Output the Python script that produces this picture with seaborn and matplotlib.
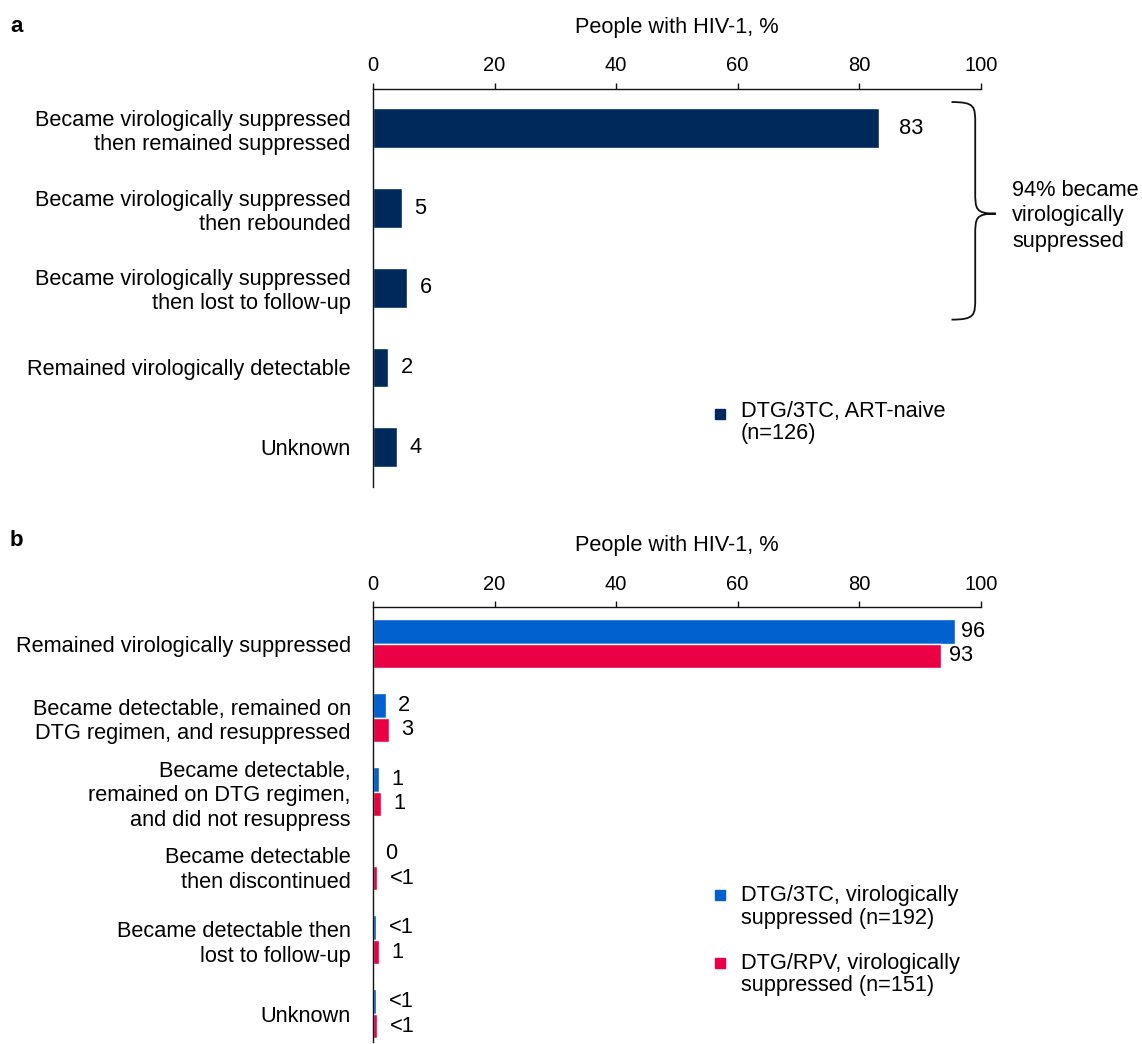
import matplotlib
matplotlib.use("Agg")
import matplotlib.pyplot as plt
from matplotlib.path import Path as MPath
from matplotlib.patches import PathPatch, Rectangle
import seaborn as sns
import pandas as pd

# ---- data ----
cats_a = [
    "Became virologically suppressed\nthen remained suppressed",
    "Became virologically suppressed\nthen rebounded",
    "Became virologically suppressed\nthen lost to follow-up",
    "Remained virologically detectable",
    "Unknown",
]
vals_a = [83.3, 4.8, 5.6, 2.5, 4.0]
labels_a = ["83", "5", "6", "2", "4"]

cats_b = [
    "Remained virologically suppressed",
    "Became detectable, remained on\nDTG regimen, and resuppressed",
    "Became detectable,\nremained on DTG regimen,\nand did not resuppress",
    "Became detectable\nthen discontinued",
    "Became detectable then\nlost to follow-up",
    "Unknown",
]
vals_b_3tc = [95.8, 2.1, 1.0, 0.0, 0.5, 0.5]
vals_b_rpv = [93.4, 2.6, 1.3, 0.7, 1.0, 0.7]
labels_b_3tc = ["96", "2", "1", "0", "<1", "<1"]
labels_b_rpv = ["93", "3", "1", "<1", "1", "<1"]

series_a = "DTG/3TC, ART-naive\n(n=126)"
series_b = ["DTG/3TC, virologically\nsuppressed (n=192)",
            "DTG/RPV, virologically\nsuppressed (n=151)"]

NAVY = "#00295B"
BLUE = "#0061CF"
RED = "#EB0045"

sns.set_theme(style="white")
plt.rcParams["font.family"] = ["Liberation Sans", "DejaVu Sans"]
plt.rcParams["text.color"] = "black"
plt.rcParams["axes.labelcolor"] = "black"
plt.rcParams["xtick.color"] = "black"
plt.rcParams["ytick.color"] = "black"
FS = 15.7
TFS = 14.5

W, H = 1142, 1044
fig = plt.figure(figsize=(W / 100, H / 100), dpi=100)


def fx(x):
    return x / W


def fy(y):
    return 1 - y / H


ax_a = fig.add_axes([fx(373), fy(487), (980.7 - 373) / W, (487 - 88.5) / H])
ax_b = fig.add_axes([fx(373), fy(1042), (980.7 - 373) / W, (1042 - 606.7) / H])

df_a = pd.DataFrame({"category": cats_a, "value": vals_a})
sns.barplot(data=df_a, y="category", x="value", orient="h", color=NAVY,
            saturation=1, width=0.5, ax=ax_a)

df_b = pd.DataFrame({
    "category": cats_b * 2,
    "value": vals_b_3tc + vals_b_rpv,
    "group": [series_b[0]] * len(cats_b) + [series_b[1]] * len(cats_b),
})
sns.barplot(data=df_b, y="category", x="value", hue="group", orient="h",
            hue_order=series_b, palette=[BLUE, RED], saturation=1,
            width=0.66, legend=False, ax=ax_b)


def style_axis(ax, ylim):
    ax.set_xlim(0, 100)
    ax.set_ylim(*ylim)
    ax.xaxis.tick_top()
    ax.xaxis.set_label_position("top")
    ax.set_xticks([0, 20, 40, 60, 80, 100])
    ax.tick_params(axis="x", direction="out", length=4.5, width=1,
                   color="#111111", labelsize=TFS, pad=5, bottom=False, top=True)
    ax.tick_params(axis="y", length=0, labelsize=FS, pad=16)
    for lbl in ax.get_yticklabels():
        lbl.set_horizontalalignment("right")
        lbl.set_linespacing(1.2)
    for s in ["right", "bottom"]:
        ax.spines[s].set_visible(False)
    for s in ["top", "left"]:
        ax.spines[s].set_color("#111111")
        ax.spines[s].set_linewidth(1)
    ax.set_xlabel("People with HIV-1, %", fontsize=FS, labelpad=17)
    ax.set_ylabel("")


style_axis(ax_a, (4.5, -0.5))
style_axis(ax_b, (5.38, -0.5))


def add_labels(ax, container, labels, pads):
    for patch, lab, pad in zip(container.patches, labels, pads):
        y = patch.get_y() + patch.get_height() / 2
        ax.annotate(lab, xy=(patch.get_width(), y), xytext=(pad, 0),
                    textcoords="offset points", va="center", ha="left",
                    fontsize=FS, annotation_clip=False)


add_labels(ax_a, ax_a.containers[0], labels_a, [14, 9, 9, 9, 9])
add_labels(ax_b, ax_b.containers[0], labels_b_3tc, [4, 9, 9, 9, 9, 9])
add_labels(ax_b, ax_b.containers[1], labels_b_rpv, [6, 9, 9, 9, 9, 9])

# brace spanning the three "became suppressed" rows
x0, x1, x2 = 95.2, 99.1, 102.5
yt, ym, yb, r = -0.33, 1.07, 2.4, 0.28
verts = [
    (x0, yt), (x1, yt), (x1, yt + r * 0.2), (x1, yt + r),
    (x1, ym - r),
    (x1, ym - r * 0.2), (x1, ym), (x2, ym),
    (x1, ym), (x1, ym + r * 0.2), (x1, ym + r),
    (x1, yb - r),
    (x1, yb - r * 0.2), (x1, yb), (x0, yb),
]
codes = [MPath.MOVETO, MPath.CURVE4, MPath.CURVE4, MPath.CURVE4,
         MPath.LINETO,
         MPath.CURVE4, MPath.CURVE4, MPath.CURVE4,
         MPath.CURVE4, MPath.CURVE4, MPath.CURVE4,
         MPath.LINETO,
         MPath.CURVE4, MPath.CURVE4, MPath.CURVE4]
ax_a.add_patch(PathPatch(MPath(verts, codes), fill=False, lw=1.3,
                         ec="#111111", clip_on=False))
fig.text(fx(1012), fy(216), "94% became\nvirologically\nsuppressed",
         fontsize=FS, ha="left", va="center", linespacing=1.28)


# legends with marker aligned to first text line
def legend_entry(ym_px, baseline_px, color, text):
    fig.add_artist(Rectangle((fx(715), fy(ym_px + 5)), 10 / W, 10 / H,
                             transform=fig.transFigure, color=color))
    fig.text(fx(741), fy(baseline_px - 19.5), text, fontsize=FS,
             ha="left", va="top", linespacing=1.07)


legend_entry(414, 420, NAVY, series_a)
legend_entry(895, 905, BLUE, series_b[0])
legend_entry(963, 972, RED, series_b[1])

fig.text(fx(10), fy(26), "a", fontsize=16, fontweight="bold", va="center")
fig.text(fx(10), fy(540), "b", fontsize=16, fontweight="bold", va="center")

fig.savefig("out.png", dpi=100)
